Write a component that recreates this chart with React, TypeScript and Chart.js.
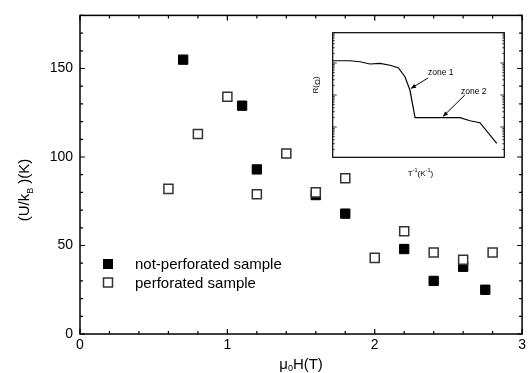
import React, { useEffect, useRef } from "react";
import { Chart, registerables } from "chart.js";

Chart.register(...registerables);

// ---------- data ----------
const filledX = [0.7, 1.1, 1.2, 1.6, 1.8, 2.2, 2.4, 2.6, 2.75];
const filledY = [155, 129, 93, 78.5, 68, 48, 30, 38, 25];
const openX = [0.6, 0.8, 1.0, 1.2, 1.4, 1.6, 1.8, 2.0, 2.2, 2.4, 2.6, 2.8];
const openY = [82, 113, 134, 79, 102, 80, 88, 43, 58, 46, 42, 46];
const seriesNames = ["not-perforated sample", "perforated sample"];
const xTickValues = [0, 1, 2, 3];
const yTickValues = [0, 50, 100, 150];
const xMinorStep = 0.2;
const yMinorStep = 10;
const xRange = [0, 3];
const yRange = [0, 180];

// inset: R (log) vs 1/T (arbitrary units)
const insetX = [0, 10, 16, 21.7, 27.6, 33.4, 38.2, 42.1, 45, 48, 74.2, 80, 85.8, 95.6];
const insetR = [1175, 1175, 1096, 930, 976, 850, 712, 372, 143, 19.5, 19.5, 15.7, 13.6, 3.1];
const insetXRange = [0, 100];
const insetRRange = [1.13, 8850];
const zoneLabels = ["zone 1", "zone 2"];
const zoneTextAt = [[55.5, 486], [74.8, 124]];
const zoneArrowFrom = [[55.5, 339], [77.0, 100]];
const zoneArrowTo = [[45.6, 160], [64.3, 21.3]];

const FONT = "'Liberation Sans', Arial, Helvetica, sans-serif";

function drawSegments(ctx: CanvasRenderingContext2D, parts: { t: string; size: number; dy: number }[], x: number, y: number, align: "center" | "left") {
  let total = 0;
  for (const p of parts) {
    ctx.font = `${p.size}px ${FONT}`;
    total += ctx.measureText(p.t).width;
  }
  let cx = align === "center" ? x - total / 2 : x;
  ctx.textAlign = "left";
  for (const p of parts) {
    ctx.font = `${p.size}px ${FONT}`;
    ctx.fillText(p.t, cx, y + p.dy);
    cx += ctx.measureText(p.t).width;
  }
}

const mainDecor = {
  id: "mainDecor",
  afterDraw(chart: any) {
    const { ctx, chartArea: a, scales } = chart;
    const x = scales.x;
    const y = scales.y;
    ctx.save();
    ctx.strokeStyle = "#000";
    ctx.lineWidth = 1.5;
    ctx.strokeRect(a.left, a.top, a.right - a.left, a.bottom - a.top);
    ctx.lineWidth = 1.2;
    ctx.beginPath();
    const nx = Math.round((xRange[1] - xRange[0]) / xMinorStep);
    for (let i = 0; i <= nx; i++) {
      const v = xRange[0] + i * xMinorStep;
      const px = x.getPixelForValue(v);
      const len = Math.abs(v - Math.round(v)) < 1e-6 ? 5 : 3;
      ctx.moveTo(px, a.bottom);
      ctx.lineTo(px, a.bottom - len);
      ctx.moveTo(px, a.top);
      ctx.lineTo(px, a.top + len);
    }
    for (let v = yRange[0]; v <= yRange[1]; v += yMinorStep) {
      const py = y.getPixelForValue(v);
      const len = v % 50 === 0 ? 5 : 3;
      ctx.moveTo(a.left, py);
      ctx.lineTo(a.left + len, py);
      ctx.moveTo(a.right, py);
      ctx.lineTo(a.right - len, py);
    }
    ctx.stroke();

    // legend
    const ds = chart.data.datasets;
    const rows = [ds[1], ds[0]];
    rows.forEach((d: any, i: number) => {
      const cy = 264 + i * 18.5;
      const cx = 108;
      const s = 9;
      ctx.fillStyle = d.backgroundColor;
      ctx.fillRect(cx - s / 2, cy - s / 2, s, s);
      ctx.strokeStyle = d.borderColor;
      ctx.lineWidth = d.borderWidth;
      ctx.strokeRect(cx - s / 2, cy - s / 2, s, s);
      ctx.fillStyle = "#000";
      ctx.font = `15px ${FONT}`;
      ctx.textBaseline = "middle";
      ctx.textAlign = "left";
      ctx.fillText(d.label, 135, cy + 1);
    });

    // axis titles
    ctx.fillStyle = "#000";
    ctx.textBaseline = "middle";
    drawSegments(ctx, [
      { t: "\u03bc", size: 15, dy: 0 },
      { t: "0", size: 9, dy: 4 },
      { t: "H(T)", size: 15, dy: 0 },
    ], (a.left + a.right) / 2, 365, "center");

    ctx.save();
    ctx.translate(25, 190);
    ctx.rotate(-Math.PI / 2);
    drawSegments(ctx, [
      { t: "(U/k", size: 15, dy: 0 },
      { t: "B", size: 9, dy: 6 },
      { t: " )(K)", size: 15, dy: 0 },
    ], 0, 0, "center");
    ctx.restore();
    ctx.restore();
  },
};

const insetDecor = {
  id: "insetDecor",
  afterDraw(chart: any) {
    const { ctx, chartArea: a, scales } = chart;
    const x = scales.x;
    const y = scales.y;
    ctx.save();
    ctx.strokeStyle = "#000";
    ctx.lineWidth = 1.2;
    ctx.strokeRect(a.left, a.top, a.right - a.left, a.bottom - a.top);
    ctx.lineWidth = 0.8;
    ctx.beginPath();
    const d0 = Math.floor(Math.log10(insetRRange[0]));
    const d1 = Math.ceil(Math.log10(insetRRange[1]));
    for (let d = d0; d <= d1; d++) {
      for (let m = 1; m <= 9; m++) {
        const v = m * Math.pow(10, d);
        if (v < insetRRange[0] || v > insetRRange[1]) continue;
        const py = y.getPixelForValue(v);
        const len = m === 1 ? 4 : 2;
        ctx.moveTo(a.left, py);
        ctx.lineTo(a.left + len, py);
        ctx.moveTo(a.right, py);
        ctx.lineTo(a.right - len, py);
      }
    }
    ctx.stroke();

    // arrows + zone labels
    ctx.fillStyle = "#000";
    ctx.lineWidth = 1;
    zoneLabels.forEach((lab, i) => {
      const fx = x.getPixelForValue(zoneArrowFrom[i][0]);
      const fy = y.getPixelForValue(zoneArrowFrom[i][1]);
      const tx = x.getPixelForValue(zoneArrowTo[i][0]);
      const ty = y.getPixelForValue(zoneArrowTo[i][1]);
      ctx.beginPath();
      ctx.moveTo(fx, fy);
      ctx.lineTo(tx, ty);
      ctx.stroke();
      const ang = Math.atan2(ty - fy, tx - fx);
      const L = 5, W = 2.2;
      ctx.beginPath();
      ctx.moveTo(tx, ty);
      ctx.lineTo(tx - L * Math.cos(ang) + W * Math.sin(ang), ty - L * Math.sin(ang) - W * Math.cos(ang));
      ctx.lineTo(tx - L * Math.cos(ang) - W * Math.sin(ang), ty - L * Math.sin(ang) + W * Math.cos(ang));
      ctx.closePath();
      ctx.fill();
      ctx.font = `8.5px ${FONT}`;
      ctx.textBaseline = "middle";
      ctx.textAlign = "left";
      ctx.fillText(lab, x.getPixelForValue(zoneTextAt[i][0]), y.getPixelForValue(zoneTextAt[i][1]));
    });

    // inset axis titles
    ctx.textBaseline = "middle";
    drawSegments(ctx, [
      { t: "T", size: 8, dy: 0 },
      { t: "-1", size: 5.5, dy: -3 },
      { t: "(K", size: 8, dy: 0 },
      { t: "-1", size: 5.5, dy: -3 },
      { t: ")", size: 8, dy: 0 },
    ], (a.left + a.right) / 2 + 2, a.bottom + 16, "center");

    ctx.save();
    ctx.translate(a.left - 17, 65);
    ctx.rotate(-Math.PI / 2);
    drawSegments(ctx, [
      { t: "R(", size: 8, dy: 0 },
      { t: "\u03a9", size: 8, dy: 2 },
      { t: ")", size: 8, dy: 0 },
    ], 0, 0, "center");
    ctx.restore();
    ctx.restore();
  },
};

export default function App() {
  const mainRef = useRef<HTMLCanvasElement>(null);
  const insetRef = useRef<HTMLCanvasElement>(null);

  useEffect(() => {
    document.body.style.margin = "0";
    const main = new Chart(mainRef.current!, {
      type: "scatter",
      data: {
        datasets: [
          {
            label: seriesNames[1],
            data: openX.map((v, i) => ({ x: v, y: openY[i] })),
            pointStyle: "rect",
            pointRadius: 6.4,
            backgroundColor: "#fff",
            borderColor: "#333",
            borderWidth: 1.5,
            order: 0,
          },
          {
            label: seriesNames[0],
            data: filledX.map((v, i) => ({ x: v, y: filledY[i] })),
            pointStyle: "rect",
            pointRadius: 6.6,
            backgroundColor: "#000",
            borderColor: "#000",
            borderWidth: 1,
            order: 1,
          },
        ] as any,
      },
      options: {
        responsive: false,
        animation: false,
        devicePixelRatio: 1,
        layout: { padding: { top: 10, right: 4, left: 0, bottom: 0 } },
        plugins: { legend: { display: false }, tooltip: { enabled: false } },
        scales: {
          x: {
            type: "linear",
            min: xRange[0],
            max: xRange[1],
            grid: { display: false, drawTicks: false },
            border: { display: false },
            afterBuildTicks: (s: any) => { s.ticks = xTickValues.map((v) => ({ value: v })); },
            afterFit: (s: any) => { s.height = 39; },
            ticks: { color: "#000", font: { family: FONT, size: 14 }, padding: 3, autoSkip: false, maxRotation: 0 },
          },
          y: {
            type: "linear",
            min: yRange[0],
            max: yRange[1],
            grid: { display: false, drawTicks: false },
            border: { display: false },
            afterBuildTicks: (s: any) => { s.ticks = yTickValues.map((v) => ({ value: v })); },
            afterFit: (s: any) => { s.width = 80; },
            ticks: { color: "#000", font: { family: FONT, size: 14 }, padding: 7, autoSkip: false },
          },
        },
      } as any,
      plugins: [mainDecor],
    });

    const inset = new Chart(insetRef.current!, {
      type: "line",
      data: {
        datasets: [
          {
            data: insetX.map((v, i) => ({ x: v, y: insetR[i] })),
            borderColor: "#000",
            borderWidth: 1.2,
            pointRadius: 0,
            tension: 0,
            fill: false,
          },
        ],
      },
      options: {
        responsive: false,
        animation: false,
        devicePixelRatio: 1,
        layout: { padding: { left: 32.7, top: 12.7, right: 15.7, bottom: 32.7 } },
        plugins: { legend: { display: false }, tooltip: { enabled: false } },
        scales: {
          x: { type: "linear", min: insetXRange[0], max: insetXRange[1], display: false },
          y: { type: "logarithmic", min: insetRRange[0], max: insetRRange[1], display: false },
        },
      } as any,
      plugins: [insetDecor],
    });

    return () => {
      main.destroy();
      inset.destroy();
    };
  }, []);

  return (
    <div style={{ position: "absolute", left: 0, top: 0, width: 530, height: 373, background: "#fff" }}>
      <canvas ref={mainRef} width={530} height={373} style={{ position: "absolute", left: 0, top: 0 }} />
      <canvas ref={insetRef} width={220} height={170} style={{ position: "absolute", left: 300, top: 20 }} />
    </div>
  );
}
